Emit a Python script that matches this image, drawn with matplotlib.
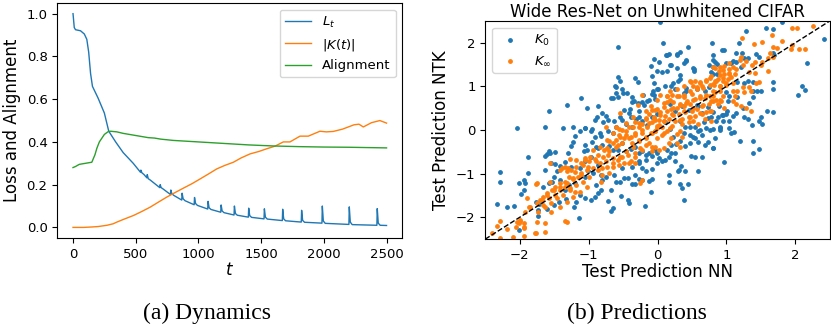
import numpy as np
import matplotlib.pyplot as plt

# ---- (a) dynamics ----
loss_t = [0, 10, 20, 60, 90, 110, 125, 140, 155, 200, 250, 285, 340, 400, 480,
          538, 541, 550, 565,
          589, 592, 600, 615,
          692, 695, 703, 718,
          777, 780, 788, 803,
          867, 870, 878, 893,
          966, 969, 977, 992,
          1074, 1077, 1085, 1100,
          1178, 1181, 1189, 1204,
          1284, 1287, 1295, 1310,
          1398, 1401, 1409, 1424,
          1523, 1526, 1534, 1549,
          1669, 1672, 1680, 1695,
          1820, 1823, 1831, 1846,
          1985, 1988, 1996, 2011,
          2200, 2203, 2211, 2226,
          2423, 2426, 2434, 2449,
          2500]
loss_v = [1.0, 0.935, 0.925, 0.92, 0.905, 0.88, 0.82, 0.72, 0.66, 0.605, 0.535, 0.45, 0.4, 0.35, 0.3,
          0.258, 0.268, 0.255, 0.248,
          0.232, 0.247, 0.228, 0.222,
          0.186, 0.2, 0.186, 0.18,
          0.154, 0.175, 0.158, 0.15,
          0.128, 0.16, 0.134, 0.125,
          0.106, 0.14, 0.112, 0.103,
          0.086, 0.122, 0.092, 0.084,
          0.071, 0.105, 0.077, 0.069,
          0.058, 0.1, 0.065, 0.057,
          0.048, 0.09, 0.055, 0.047,
          0.04, 0.087, 0.048, 0.039,
          0.032, 0.085, 0.04, 0.031,
          0.025, 0.08, 0.033, 0.024,
          0.02, 0.1, 0.03, 0.019,
          0.014, 0.096, 0.025, 0.013,
          0.01, 0.088, 0.02, 0.01,
          0.009]

k_t = [0, 85, 150, 200, 271, 320, 350, 400, 483, 550, 616, 680, 748, 820, 881, 950,
       1014, 1080, 1147, 1210, 1279, 1340, 1412, 1480, 1545, 1610, 1677, 1730, 1810,
       1876, 1969, 2020, 2075, 2150, 2240, 2280, 2315, 2380, 2447, 2500]
k_v = [0, 0, 0.002, 0.004, 0.01, 0.017, 0.025, 0.037, 0.056, 0.075, 0.095, 0.118, 0.142,
       0.165, 0.184, 0.205, 0.227, 0.25, 0.274, 0.29, 0.305, 0.325, 0.344, 0.355, 0.368,
       0.38, 0.4, 0.4, 0.427, 0.427, 0.45, 0.447, 0.449, 0.46, 0.48, 0.483, 0.47, 0.49,
       0.5, 0.488]

align_t = [0, 20, 50, 100, 150, 175, 190, 210, 250, 280, 300, 350, 400, 500, 600, 650,
           700, 800, 1000, 1200, 1400, 1600, 1800, 2000, 2200, 2300, 2500]
align_v = [0.28, 0.285, 0.295, 0.3, 0.305, 0.34, 0.37, 0.4, 0.435, 0.448, 0.45, 0.447,
           0.44, 0.43, 0.42, 0.418, 0.413, 0.407, 0.4, 0.393, 0.386, 0.381, 0.378, 0.376,
           0.375, 0.374, 0.372]

# ---- (b) predictions: (NN, NTK) pairs ----
k0_pts = [
    # upper left
    (-1.11, 0.74), (-1.31, 0.57), (-1.57, 0.44), (-1.03, 0.50), (-0.87, 0.54), (-0.88, 0.31),
    (-0.91, 0.23), (-2.04, 0.05), (-1.63, 0.07), (-1.37, 0.05), (-1.23, 0.08), (-1.06, 0.05),
    (-0.95, 0.02),
    # upper middle
    (0.04, 2.47), (-0.58, 1.90), (0.08, 1.99), (0.44, 1.90), (0.79, 2.0), (0.32, 1.78),
    (0.16, 1.75), (0.13, 1.71), (0.28, 1.72), (-0.05, 1.62), (0.02, 1.55), (0.42, 1.61),
    (0.38, 1.53), (0.19, 1.48), (-0.1, 1.46), (0.75, 1.48), (0.53, 1.40), (0.53, 1.36),
    (0.28, 1.42), (0.14, 1.36), (0.06, 1.32), (0.78, 1.32), (-0.57, 1.21), (-0.08, 1.23),
    (-0.55, 1.12), (-0.33, 1.19), (-0.28, 1.09), (0.29, 1.13), (0.33, 1.17), (0.11, 1.0),
    (0.2, 1.0), (-0.05, 1.07), (-0.6, 0.98), (-0.61, 0.84), (-0.58, 0.75), (-0.65, 0.73),
    (-0.52, 0.93), (-0.44, 0.84), (-0.37, 0.75), (-0.21, 0.80), (-0.06, 0.9), (-0.08, 0.83),
    (0.01, 0.94), (-0.03, 0.71), (0.26, 0.94), (0.38, 0.86), (0.41, 0.9), (0.57, 0.94),
    (0.69, 0.9), (0.75, 0.98), (-0.75, 0.33), (-0.72, 0.23), (-0.79, 0.18), (-0.63, 0.21),
    (-0.6, 0.08), (-0.54, 0.31), (-0.48, 0.46), (-0.51, 0.23), (-0.4, 0.48), (-0.37, 0.64),
    (-0.34, 0.66), (-0.28, 0.61), (-0.22, 0.64), (-0.2, 0.57), (-0.15, 0.67), (-0.27, 0.44),
    (-0.39, 0.29), (-0.31, 0.25), (-0.46, 0.14), (-0.37, 0.08), (-0.22, 0.21), (-0.15, 0.12),
    (-0.08, 0.29), (-0.01, 0.37), (0.18, 0.6), (0.26, 0.44), (0.35, 0.56), (0.46, 0.46),
    (0.59, 0.56), (0.65, 0.4), (0.73, 0.52), (0.78, 0.29), (0.68, 0.18), (0.54, 0.06),
    (0.4, 0.08), (0.32, 0.21), (0.11, 0.18), (0.18, 0.02), (0.59, -0.02), (0.71, 0.05),
    (0.14, 1.73), (0.28, 1.75), (0.42, 1.58), (0.18, 1.50), (0.52, 1.43), (-0.01, 1.35),
    (0.33, 1.27), (0.23, 1.08), (0.42, 0.97), (-0.01, 0.93), (0.57, 0.58), (0.73, 0.27),
    (0.85, 0.20), (0.95, 0.35), (0.47, 0.08), (0.61, 0.00), (0.38, -0.07), (0.76, 0.00),
    (0.23, -0.15), (0.52, -0.15), (0.90, 0.04), (1.04, 0.04),
    (-0.62, 1.00), (-0.50, 0.85), (-0.67, 0.74), (-0.81, 0.39), (-1.05, 0.05), (-0.84, -0.07),
    (-0.13, 0.70), (-0.05, 0.81), (-0.27, 0.31), (-0.41, 0.39), (-0.01, -0.53), (-0.17, -0.68),
    (-0.27, -0.72), (-0.22, -0.88), (-0.51, -0.88), (-0.89, -0.38), (-1.03, -0.45),
    # upper right
    (1.29, 2.27), (1.58, 2.34), (1.67, 2.32), (1.81, 2.47), (1.18, 1.99), (0.94, 1.84),
    (0.97, 1.84), (1.14, 1.76), (1.23, 1.76), (1.26, 1.65), (1.32, 1.65), (1.43, 1.75),
    (1.47, 1.68), (1.67, 1.76), (1.69, 1.71), (0.81, 1.71), (0.81, 1.61), (0.83, 1.55),
    (0.86, 1.52), (0.81, 1.44), (1.00, 1.53), (1.07, 1.53), (1.09, 1.58), (1.14, 1.55),
    (1.21, 1.44), (0.81, 1.29), (0.86, 1.29), (2.42, 2.09), (2.17, 1.53), (2.09, 1.02),
    (2.14, 0.92), (2.04, 0.81), (1.67, 1.11), (1.68, 0.94), (1.50, 0.90), (1.45, 0.89),
    (1.38, 0.90), (1.38, 1.10), (1.31, 1.12), (1.26, 1.07), (1.38, 0.75), (1.16, 1.10),
    (1.15, 0.75), (1.00, 0.87), (1.04, 0.79), (1.02, 0.66), (1.01, 0.44), (1.00, 0.37),
    (0.89, 0.56), (0.88, 0.29), (0.81, 0.41), (0.93, 0.34), (1.14, 0.38), (1.09, 0.33),
    (1.24, 0.50), (1.26, 0.29), (1.31, 0.25), (1.33, 0.61), (1.50, 0.29), (1.48, 0.21),
    (1.37, 0.12), (1.52, 0.14), (1.59, 0.44), (1.67, 0.41), (1.04, 0.21), (0.95, 0.21),
    (0.81, 0.02), (0.90, 0.06),
    # lower left
    (-1.20, -0.13), (-1.13, -0.03), (-0.96, -0.03), (-0.91, -0.15), (-0.95, -0.28),
    (-1.06, -0.34), (-1.23, -0.28), (-1.26, -0.36), (-0.87, -0.41), (-1.07, -0.49),
    (-1.58, -0.49), (-1.56, -0.53), (-1.61, -0.55), (-1.63, -0.59), (-1.49, -0.51),
    (-1.30, -0.53), (-1.88, -0.62), (-1.35, -0.74), (-1.54, -0.76), (-1.49, -0.78),
    (-1.42, -0.82), (-1.25, -0.84), (-1.13, -0.87), (-1.06, -0.72), (-0.96, -0.61),
    (-0.87, -0.80), (-0.94, -0.99), (-2.29, -0.97), (-2.29, -1.18), (-1.88, -0.98),
    (-2.01, -1.22), (-1.94, -1.14), (-1.92, -1.22), (-1.94, -1.37), (-1.58, -1.22),
    (-1.66, -1.30), (-1.50, -1.07), (-1.53, -1.18), (-1.98, -1.46), (-2.33, -1.70),
    (-2.19, -1.77), (-2.09, -1.74), (-1.77, -1.64), (-1.72, -1.70), (-1.73, -1.83),
    (-1.74, -1.97), (-1.61, -1.80), (-1.50, -1.72), (-1.43, -1.64), (-1.33, -1.59),
    (-1.21, -1.76), (-1.18, -1.64), (-1.06, -1.56), (-1.13, -1.49), (-0.96, -1.60),
    (-0.91, -1.53), (-0.87, -1.45), (-0.82, -1.37), (-2.01, -2.29), (-1.14, -2.02),
    (-1.35, -1.37), (-1.29, -1.26), (-1.20, -1.22), (-1.42, -1.14), (-1.46, -0.95),
    (-1.63, -0.91), (-1.06, -1.07), (-1.01, -0.95), (-0.82, -1.03), (-0.89, -1.26),
    # lower middle
    (-0.82, -0.13), (-0.72, -0.03), (-0.65, -0.07), (-0.80, -0.34), (-0.70, -0.36),
    (-0.65, -0.45), (-0.58, -0.45), (-0.51, -0.30), (-0.46, -0.49), (-0.39, -0.44),
    (-0.32, -0.38), (-0.27, -0.53), (-0.22, -0.47), (-0.17, -0.57), (-0.13, -0.53),
    (-0.08, -0.59), (-0.03, -0.45), (0.02, -0.65), (0.07, -0.72), (0.11, -0.68),
    (0.16, -0.62), (0.19, -0.53), (0.26, -0.53), (0.14, -0.45), (0.19, -0.34), (0.27, -0.32),
    (0.33, -0.26), (0.40, -0.36), (0.47, -0.30), (0.47, -0.11), (0.54, -0.18), (0.59, -0.28),
    (0.64, -0.11), (0.69, -0.34), (0.73, -0.28), (0.80, -0.41), (0.49, -0.59), (0.55, -0.61),
    (0.64, -0.62), (0.59, -0.95), (0.31, -0.91), (0.30, -0.95), (0.40, -0.95), (0.34, -0.82),
    (0.26, -0.72), (-0.17, -0.95), (-0.13, -1.16), (-0.08, -1.13), (0.16, -1.03),
    (0.17, -1.18), (0.33, -1.24), (0.44, -1.24), (0.35, -1.33), (0.39, -1.60), (-0.10, -1.41),
    (-0.18, -1.74), (-0.43, -1.60), (-0.42, -1.68), (-0.53, -1.51), (-0.72, -1.62),
    (-0.65, -1.79), (-0.67, -1.86), (-0.68, -1.37), (-0.60, -1.20), (-0.55, -1.20),
    (-0.37, -1.23), (-0.33, -1.23), (-0.27, -1.13), (-0.22, -1.14), (-0.43, -1.10),
    (-0.48, -1.10), (-0.63, -1.03), (-0.75, -1.07), (-0.80, -1.14), (-0.37, -0.84),
    (-0.27, -0.76), (-0.01, -0.76), (-0.08, -0.90), (-0.32, -1.03),
    # lower right
    (0.90, -0.01), (0.83, -0.18), (0.81, -0.41), (1.07, -0.07), (1.11, -0.05), (1.20, -0.24),
    (1.38, -0.26), (1.48, -0.44), (1.39, -0.53), (0.96, -0.74),
]

kinf_pts = [
    # middle, above zero
    (0.49, 1.10), (0.55, 1.13), (0.62, 1.10), (0.70, 1.15), (0.76, 1.20), (0.81, 1.06),
    (0.65, 1.02), (0.58, 0.98), (0.14, 0.79), (0.21, 0.81), (0.31, 0.79), (0.38, 0.75),
    (0.50, 0.83), (0.43, 0.67), (0.33, 0.60), (0.23, 0.64), (0.14, 0.64), (0.09, 0.52),
    (0.19, 0.48), (0.28, 0.51), (0.38, 0.54), (0.47, 0.60), (0.55, 0.71), (0.62, 0.79),
    (0.69, 0.74), (0.76, 0.79), (0.81, 0.67), (0.74, 0.60), (0.64, 0.56), (0.57, 0.48),
    (0.50, 0.44), (0.40, 0.41), (0.31, 0.37), (0.21, 0.37), (0.11, 0.33), (0.04, 0.41),
    (-0.01, 0.48), (-0.08, 0.46), (-0.12, 0.37), (-0.05, 0.29), (0.02, 0.23), (0.09, 0.21),
    (0.16, 0.25), (0.26, 0.21), (0.35, 0.25), (0.45, 0.29), (0.55, 0.33), (0.64, 0.37),
    (0.71, 0.41), (0.78, 0.44), (-0.08, 0.18), (-0.17, 0.25), (-0.22, 0.14), (-0.15, 0.06),
    (-0.27, 0.06), (-0.01, 0.10), (0.07, 0.06), (0.21, 0.10), (0.35, 0.14), (0.45, 0.18),
    (0.52, 0.21), (0.59, 0.14), (0.69, 0.25), (0.78, 0.21), (-0.32, 0.18), (-0.41, 0.06),
    (-0.56, 0.02), (-0.75, 0.06), (0.81, 1.44),
    (0.83, 1.43), (0.97, 1.46), (1.04, 1.54), (0.90, 1.27), (0.78, 1.23), (0.71, 1.12),
    (0.61, 1.08), (0.52, 1.00), (0.47, 1.12), (0.38, 1.00), (0.28, 0.93), (0.18, 0.89),
    (0.14, 0.77), (0.04, 0.81), (-0.01, 0.70), (0.09, 0.62), (0.18, 0.70), (0.28, 0.77),
    (0.38, 0.81), (0.47, 0.89), (0.57, 0.93), (0.66, 0.97), (0.76, 1.04), (0.85, 1.12),
    (0.95, 1.19), (1.04, 1.31), (0.90, 1.00), (0.99, 1.08), (0.81, 0.89), (0.71, 0.81),
    (0.61, 0.73), (0.52, 0.70), (0.42, 0.62), (0.33, 0.58), (0.23, 0.50), (0.14, 0.43),
    (0.04, 0.35), (-0.05, 0.27), (0.09, 0.20), (0.23, 0.35), (0.38, 0.43), (0.52, 0.50),
    (0.66, 0.58), (0.78, 0.66), (0.90, 0.70), (0.02, 0.12), (0.18, 0.04), (0.33, 0.24),
    (0.47, 0.31), (0.61, 0.39), (0.76, 0.43), (-0.03, -0.03), (0.09, -0.07),
    (-0.22, 0.81), (-0.10, 0.54), (-0.03, 0.47), (-0.17, 0.43), (-0.29, 0.58), (-0.36, 0.31),
    (-0.46, 0.16), (-0.51, 0.01), (-0.55, 0.39), (-0.60, 0.08), (-0.65, -0.07), (-0.74, -0.22),
    (-0.84, -0.38), (-0.93, -0.45), (-0.98, -0.61), (-1.05, -0.68), (-1.08, -0.80),
    (-0.89, -0.72), (-0.79, -0.61), (-0.70, -0.49), (-0.60, -0.38), (-0.51, -0.30),
    (-0.41, -0.18), (-0.32, -0.07), (-0.22, 0.01), (-0.13, 0.16), (-0.03, 0.24),
    (-0.17, -0.15), (-0.27, -0.26), (-0.36, -0.38), (-0.46, -0.49), (-0.55, -0.61),
    (-0.65, -0.76), (-0.74, -0.84), (-0.08, -0.07), (-0.01, 0.05), (-0.13, -0.30),
    (-0.22, -0.45), (-0.32, -0.61), (-0.41, -0.76), (-0.03, -0.38), (-0.55, -0.15),
    (-0.65, -0.30), (-0.74, -0.42), (-0.46, -0.11), (-0.36, 0.08), (-0.27, 0.16), (-0.17, 0.27),
    # upper right
    (1.95, 2.34), (2.03, 2.34), (2.25, 2.38), (1.23, 2.11), (1.66, 2.17), (1.40, 1.98),
    (1.52, 2.01), (1.80, 2.04), (1.95, 1.96), (2.06, 1.86), (2.14, 1.86), (1.94, 1.86),
    (1.74, 1.89), (1.67, 1.90), (1.63, 1.77), (1.68, 1.68), (1.60, 1.65), (1.52, 1.55),
    (1.50, 1.48), (1.42, 1.55), (1.37, 1.50), (1.29, 1.58), (1.24, 1.50), (1.19, 1.61),
    (1.21, 1.68), (1.09, 1.44), (1.04, 1.40), (0.95, 1.38), (0.89, 1.36), (0.90, 1.44),
    (0.97, 1.29), (1.04, 1.29), (1.07, 1.21), (1.02, 1.17), (0.95, 1.13), (0.88, 1.17),
    (0.83, 1.13), (0.82, 1.04), (0.90, 1.02), (1.00, 1.04), (1.09, 1.07), (1.13, 1.29),
    (1.14, 1.40), (1.33, 1.32), (1.42, 1.30), (1.48, 1.10), (1.60, 1.36), (1.24, 0.98),
    (1.16, 0.90), (1.10, 0.90), (1.12, 0.79), (1.26, 0.87), (1.33, 0.98), (1.35, 0.90),
    (1.43, 1.07), (0.90, 0.90), (0.83, 0.87), (0.95, 0.79), (0.85, 0.69), (0.92, 0.67),
    (1.09, 0.67), (1.14, 0.60), (1.21, 0.56), (1.29, 0.50), (1.35, 0.44), (0.88, 0.60),
    (0.97, 0.50), (0.81, 0.77),
    # lower left
    (-0.87, -0.57), (-0.91, -0.67), (-0.99, -0.72), (-1.06, -0.65), (-1.11, -0.76),
    (-1.18, -0.68), (-1.25, -0.91), (-1.20, -0.97), (-1.32, -0.95), (-1.39, -0.87),
    (-1.27, -0.67), (-1.35, -0.84), (-1.01, -0.84), (-0.94, -0.87), (-0.87, -0.91),
    (-1.11, -0.99), (-1.16, -1.07), (-1.23, -1.13), (-1.29, -1.07), (-1.35, -1.18),
    (-1.42, -1.22), (-1.49, -1.30), (-1.56, -1.20), (-1.53, -1.37), (-1.61, -1.45),
    (-1.66, -1.53), (-1.70, -1.60), (-1.66, -1.72), (-1.58, -1.56), (-1.49, -1.49),
    (-1.42, -1.37), (-1.35, -1.30), (-1.27, -1.33), (-1.20, -1.41), (-1.77, -1.23),
    (-1.89, -1.56), (-1.87, -1.76), (-1.93, -1.89), (-1.99, -2.08), (-2.01, -2.12),
    (-1.94, -2.25), (-2.06, -2.22), (-2.19, -2.28), (-2.28, -2.08), (-2.33, -2.20),
    (-2.40, -2.37), (-2.28, -2.48), (-2.10, -2.46), (-1.78, -2.37), (-1.64, -2.33),
    (-1.63, -2.14), (-1.34, -2.08), (-1.94, -2.12),
    (-1.56, -0.76), (-1.42, -0.91), (-1.30, -0.87), (-1.18, -0.84), (-1.11, -1.03),
    (-1.23, -1.10), (-1.32, -1.22), (-1.42, -1.30), (-1.51, -1.37), (-1.61, -1.49),
    (-1.68, -1.60), (-1.75, -1.68), (-1.85, -1.76), (-1.73, -1.87), (-1.63, -1.76),
    (-1.54, -1.68), (-1.46, -1.56), (-1.37, -1.49), (-1.27, -1.37), (-1.18, -1.26),
    (-1.08, -1.18), (-1.03, -1.30), (-1.13, -1.41), (-1.23, -1.53), (-1.32, -1.64),
    (-1.42, -1.76), (-1.54, -1.87), (-1.99, -2.06), (-2.04, -2.10), (-1.94, -2.22),
    (-1.75, -2.10), (-1.77, -2.37), (-1.94, -2.44), (-1.32, -2.10), (-1.03, -0.91),
    (-0.99, -1.07), (-1.75, -1.22),
    # lower middle
    (-0.84, -0.76), (-0.80, -0.87), (-0.75, -0.72), (-0.72, -0.57), (-0.65, -0.65),
    (-0.77, -0.45), (-0.70, -0.26), (-0.60, -0.22), (-0.58, -0.34), (-0.56, -0.11),
    (-0.48, -0.18), (-0.46, -0.03), (-0.39, -0.15), (-0.37, -0.30), (-0.32, -0.11),
    (-0.27, -0.22), (-0.22, -0.07), (-0.17, -0.18), (-0.10, -0.07), (-0.03, -0.03),
    (-0.01, -0.18), (0.07, -0.11), (0.14, -0.03), (0.19, -0.18), (0.28, -0.08), (0.33, -0.03),
    (0.35, -0.16), (0.28, -0.30), (0.33, -0.38), (0.16, -0.30), (0.09, -0.42), (0.02, -0.45),
    (-0.08, -0.38), (-0.17, -0.34), (-0.25, -0.42), (-0.32, -0.53), (-0.43, -0.57),
    (-0.51, -0.61), (-0.58, -0.68), (-0.56, -0.80), (-0.65, -0.84), (-0.70, -0.98),
    (-0.80, -1.03), (-0.82, -1.18), (-0.48, -0.76), (-0.39, -0.72), (-0.32, -0.76),
    (-0.22, -1.14), (-0.25, -1.22), (-0.08, -0.49),
]

k0_x = [p[0] for p in k0_pts]
k0_y = [p[1] for p in k0_pts]
kinf_x = [p[0] for p in kinf_pts]
kinf_y = [p[1] for p in kinf_pts]

fig = plt.figure(figsize=(8.31, 3.33), dpi=100)

ax1 = fig.add_axes([0.069, 0.285, 0.415, 0.706])
ax1.plot(loss_t, loss_v, color='tab:blue', lw=1.0, label='$L_t$')
ax1.plot(k_t, k_v, color='tab:orange', lw=1.0, label='$|K(t)|$')
ax1.plot(align_t, align_v, color='tab:green', lw=1.0, label='Alignment')
ax1.set_xlim(-125, 2625)
ax1.set_ylim(-0.05, 1.05)
ax1.set_xticks([0, 500, 1000, 1500, 2000, 2500])
ax1.set_yticks([0.0, 0.2, 0.4, 0.6, 0.8, 1.0])
ax1.tick_params(labelsize=9.5)
ax1.set_xlabel('$t$', fontsize=12, labelpad=0)
ax1.set_ylabel('Loss and Alignment', fontsize=12)
ax1.legend(loc='upper right', fontsize=9.5)

ax2 = fig.add_axes([0.584, 0.282, 0.4145, 0.655])
ax2.scatter(k0_x, k0_y, s=6, color='tab:blue', label='$K_0$')
ax2.scatter(kinf_x, kinf_y, s=6, color='tab:orange', label='$K_\\infty$')
ax2.plot([-2.5, 2.5], [-2.5, 2.5], 'k--', lw=1.0)
ax2.set_xlim(-2.5, 2.5)
ax2.set_ylim(-2.5, 2.5)
ax2.set_xticks([-2, -1, 0, 1, 2])
ax2.set_yticks([-2, -1, 0, 1, 2])
ax2.tick_params(labelsize=9.5)
ax2.set_xlabel('Test Prediction NN', fontsize=12, labelpad=1)
ax2.set_ylabel('Test Prediction NTK', fontsize=12)
ax2.set_title('Wide Res-Net on Unwhitened CIFAR', fontsize=12, pad=3)
ax2.legend(loc='upper left', fontsize=9.5, scatterpoints=1)

fig.text(0.249, 0.06, '(a) Dynamics', ha='center', va='center',
         family='Liberation Serif', fontsize=17)
fig.text(0.767, 0.06, '(b) Predictions', ha='center', va='center',
         family='Liberation Serif', fontsize=17)

fig.savefig('out.png', dpi=100)
